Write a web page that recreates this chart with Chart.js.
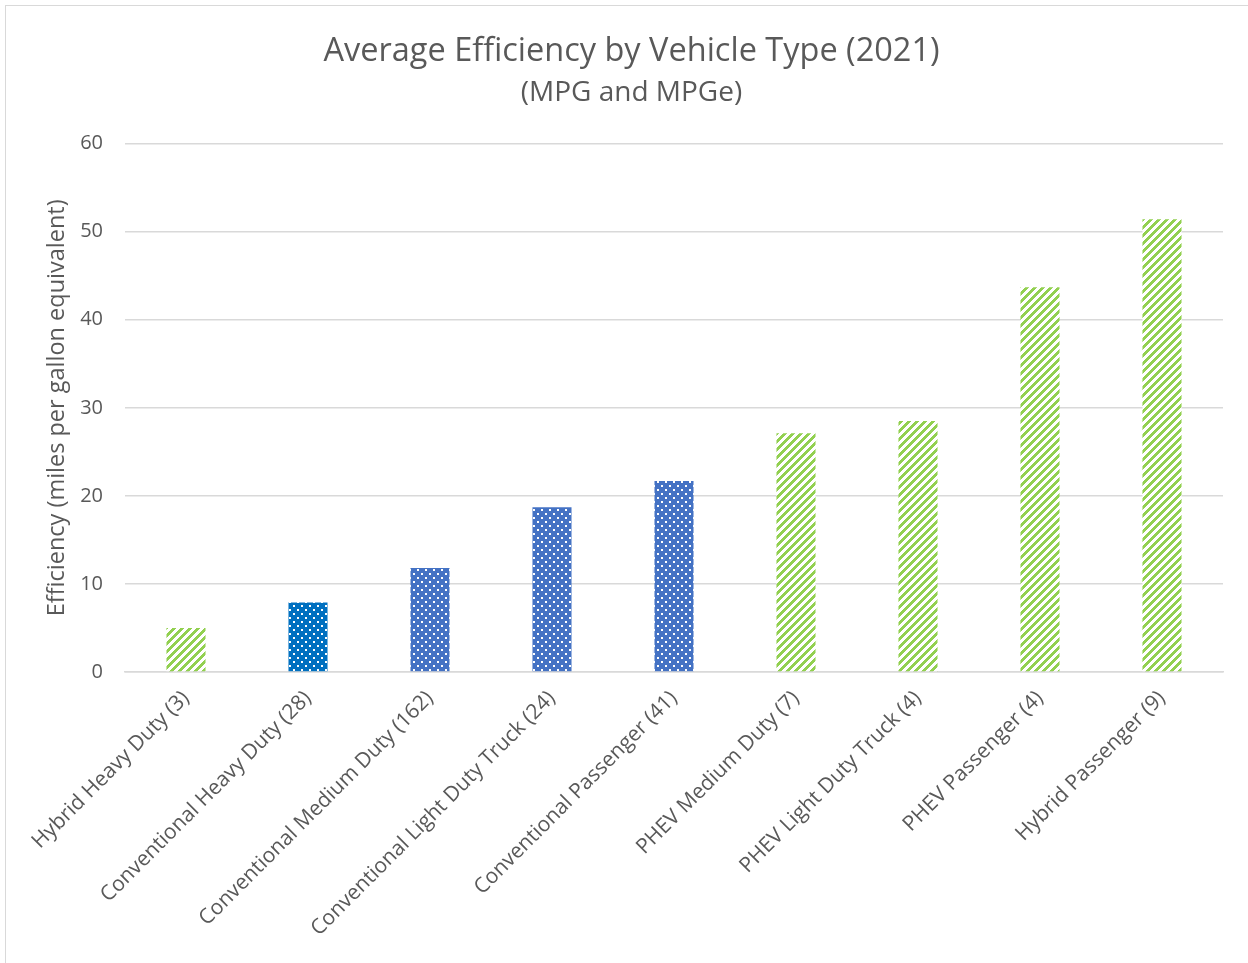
<!DOCTYPE html>
<html lang="en">
<head>
  <meta charset="UTF-8">
  <title>Average Efficiency by Vehicle Type (2021)</title>
  <script src="https://cdn.jsdelivr.net/npm/chart.js@4.4.1/dist/chart.umd.min.js"></script>
  <style>
    html, body { margin: 0; padding: 0; background: #fff; overflow: hidden; }
    #wrap { position: relative; width: 1248px; height: 963px; }
    #frame { position: absolute; left: 5px; top: 5px; width: 1300px; height: 1000px;
             border-left: 1px solid #d9d9d9; border-top: 1px solid #d9d9d9; pointer-events: none; }
  </style>
</head>
<body>
  <div id="wrap">
    <canvas id="effChart" width="1248" height="963"></canvas>
    <div id="frame"></div>
  </div>

  <script>
    // data
    const categories = [
      'Hybrid Heavy Duty (3)',
      'Conventional Heavy Duty (28)',
      'Conventional Medium Duty (162)',
      'Conventional Light Duty Truck (24)',
      'Conventional Passenger (41)',
      'PHEV Medium Duty (7)',
      'PHEV Light Duty Truck (4)',
      'PHEV Passenger (4)',
      'Hybrid Passenger (9)'
    ];
    const efficiency = [5.0, 7.9, 11.8, 18.7, 21.7, 27.1, 28.5, 43.7, 51.4];
    // which fill each bar uses
    const fillKind = ['stripe', 'dotDark', 'dot', 'dot', 'dot', 'stripe', 'stripe', 'stripe', 'stripe'];
    const yTicks = [0, 10, 20, 30, 40, 50, 60];

    const textColor = '#595959';
    const fontName = "'Open Sans', 'Noto Sans', sans-serif";

    function stripePattern(color) {
      const c = document.createElement('canvas');
      c.width = 8; c.height = 8;
      const g = c.getContext('2d');
      g.fillStyle = '#fff';
      g.fillRect(0, 0, 8, 8);
      g.fillStyle = color;
      for (let y = 0; y < 8; y++) {
        for (let x = 0; x < 8; x++) {
          if ((x + y) % 8 < 4) g.fillRect(x, y, 1, 1);
        }
      }
      return g.createPattern(c, 'repeat');
    }

    function dotPattern(color) {
      const c = document.createElement('canvas');
      c.width = 8; c.height = 8;
      const g = c.getContext('2d');
      g.fillStyle = color;
      g.fillRect(0, 0, 8, 8);
      g.fillStyle = '#fff';
      g.fillRect(1, 1, 2, 2);
      g.fillRect(5, 5, 2, 2);
      return g.createPattern(c, 'repeat');
    }

    const fills = {
      stripe: stripePattern('#92d050'),
      dotDark: dotPattern('#0070c0'),
      dot: dotPattern('#4472c4')
    };

    const ctx = document.getElementById('effChart').getContext('2d');
    new Chart(ctx, {
      type: 'bar',
      data: {
        labels: categories,
        datasets: [{
          label: 'Efficiency',
          data: efficiency,
          backgroundColor: fillKind.map(k => fills[k]),
          borderWidth: 0,
          barPercentage: 0.32,
          categoryPercentage: 1
        }]
      },
      options: {
        responsive: false,
        animation: false,
        layout: { padding: { left: 40, right: 25, top: 0, bottom: 0 } },
        plugins: {
          legend: { display: false },
          tooltip: { enabled: false },
          title: {
            display: true,
            text: 'Average Efficiency by Vehicle Type (2021)',
            color: textColor,
            font: { family: fontName, size: 32.5, weight: 'normal' },
            padding: { top: 32, bottom: 5 }
          },
          subtitle: {
            display: true,
            text: '(MPG and MPGe)',
            color: textColor,
            font: { family: fontName, size: 28, weight: 'normal' },
            padding: { top: 0, bottom: 34 }
          }
        },
        scales: {
          x: {
            grid: { display: false },
            border: { display: true, color: '#d9d9d9', width: 1.5 },
            ticks: {
              color: textColor,
              font: { family: fontName, size: 21 },
              minRotation: 45,
              maxRotation: 45,
              padding: 6
            },
            afterFit: s => { s.height = 963 - 672; }
          },
          y: {
            min: 0,
            max: 60,
            afterBuildTicks: s => { s.ticks = yTicks.map(v => ({ value: v })); },
            grid: { color: '#d9d9d9', lineWidth: 1.5, drawTicks: false },
            border: { display: false },
            ticks: {
              color: textColor,
              font: { family: fontName, size: 20 },
              padding: 22
            },
            title: {
              display: true,
              text: 'Efficiency (miles per gallon equivalent)',
              color: textColor,
              font: { family: fontName, size: 23.5 },
              padding: { top: 3, bottom: 0 }
            },
            afterFit: s => { s.width = 85; }
          }
        }
      }
    });
  </script>
</body>
</html>
